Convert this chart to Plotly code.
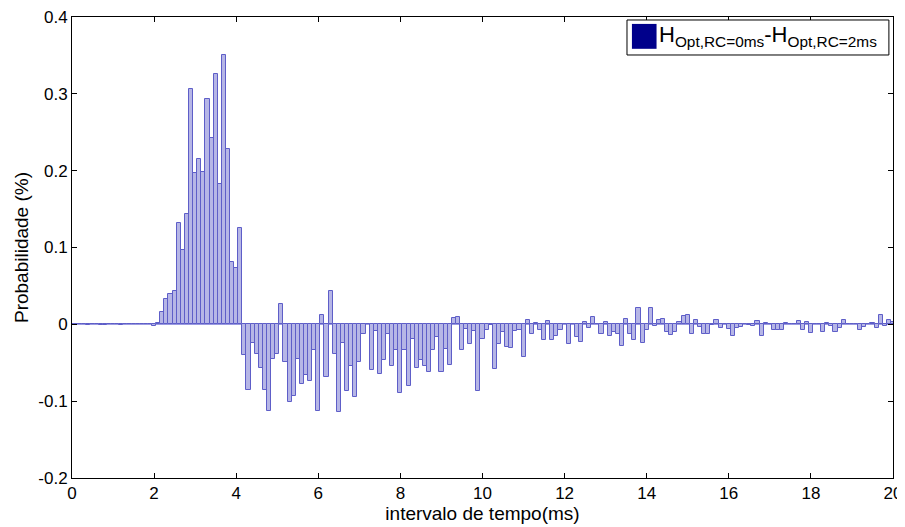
import plotly.graph_objects as go

# Bin centres (ms), 0.1 ms bins from 0.0 to 20.0
bin_centres = [round(k * 0.1, 1) for k in range(201)]

# Difference of histograms H_Opt,RC=0ms - H_Opt,RC=2ms (%)
vals_00_19 = [0, 0, 0, 0, -0.001, 0, 0, -0.001, -0.001, 0,
              0, 0, -0.001, 0, 0, 0, 0, 0, 0, 0]
vals_20_41 = [-0.002, 0.0015, 0.0158, 0.0328, 0.039, 0.043, 0.1317, 0.0965, 0.1434, 0.306,
              0.197, 0.215, 0.1985, 0.2935, 0.2423, 0.326, 0.1824, 0.3505, 0.228, 0.081,
              0.073, 0.1253]
vals_42_72 = [-0.040, -0.085, -0.0245, -0.039, -0.057, -0.085, -0.113, -0.045, -0.039, 0.026,
              -0.049, -0.101, -0.093, -0.045, -0.077, -0.066, -0.074, -0.034, -0.113, 0.012,
              -0.069, 0.043, -0.038, -0.114, -0.0245, -0.087, -0.054, -0.095, -0.049, -0.013,
              0.0]
vals_73_104 = [-0.060, -0.009, -0.064, -0.047, -0.013, -0.054, -0.034, -0.089, -0.034, -0.080,
               -0.019, -0.057, -0.047, -0.054, -0.062, -0.033, -0.017, -0.062, -0.032, -0.053,
               0.008, 0.009, -0.034, -0.006, -0.025, -0.009, -0.087, -0.019, -0.008, -0.001,
               -0.058, -0.026]
vals_105_137 = [-0.010, -0.030, -0.031, -0.009, -0.008, -0.043, 0.005, -0.013, 0.0015, -0.008,
                -0.021, 0.004, -0.021, -0.015, -0.007, 0, -0.025, 0, -0.017, -0.023,
                0.003, -0.005, 0.010, 0, -0.013, 0.003, -0.015, -0.010, -0.013, -0.028,
                0.007, -0.012, -0.020]
vals_138_167 = [0.021, -0.024, -0.008, 0.021, -0.002, 0.005, 0.007, -0.010, -0.014, -0.010,
                0.003, 0.011, 0.012, -0.013, 0.005, -0.003, -0.013, -0.012, -0.001, 0.006,
                -0.005, 0.001, -0.006, -0.015, -0.005, -0.003, 0, -0.001, -0.002, 0.004]
vals_168_200 = [-0.015, 0.002, 0, -0.008, -0.008, -0.008, 0.002, 0, 0, 0.004,
                -0.008, 0.003, -0.011, 0, 0, -0.010, 0.0015, -0.002, -0.010, -0.005,
                0.005, 0, 0, 0, -0.008, -0.004, 0, 0.002, -0.005, 0.012,
                -0.002, 0.005, 0.003]

diff_values = (vals_00_19 + vals_20_41 + vals_42_72 + vals_73_104
               + vals_105_137 + vals_138_167 + vals_168_200)

x_ticks = [0, 2, 4, 6, 8, 10, 12, 14, 16, 18, 20]
y_ticks = [-0.2, -0.1, 0, 0.1, 0.2, 0.3, 0.4]
y_tick_labels = ["-0.2", "-0.1", "0", "0.1", "0.2", "0.3", "0.4"]
legend_label = "H<sub>Opt,RC=0ms</sub>-H<sub>Opt,RC=2ms</sub>"

FONT = "Liberation Sans, Arial, sans-serif"

fig = go.Figure()
fig.add_trace(go.Bar(
    x=bin_centres, y=diff_values, width=0.1,
    marker=dict(color="#b6b6e6", line=dict(color="#5e5ec8", width=1)),
    showlegend=False,
))

axis_common = dict(
    showline=True, linecolor="#000000", linewidth=1, mirror="ticks",
    ticks="inside", ticklen=5, tickcolor="#000000", showgrid=False,
    ticklabeloverflow="allow",
    tickfont=dict(family=FONT, size=17, color="#000000"),
)

# page body adds an 8px offset; figure is sized so the plot lands where the original is
fig.update_layout(
    width=897, height=519,
    margin=dict(l=64, r=12, t=9, b=49),
    paper_bgcolor="white", plot_bgcolor="white",
    bargap=0,
    xaxis=dict(range=[0, 20], tickvals=x_ticks, zeroline=False,
               title=dict(text="intervalo de tempo(ms)", standoff=2,
                          font=dict(family=FONT, size=19, color="#000000")),
               automargin=False, **axis_common),
    yaxis=dict(range=[-0.2, 0.4], tickvals=y_ticks, ticktext=y_tick_labels,
               zeroline=True, zerolinecolor="#9a9ae0", zerolinewidth=1,
               title=dict(text="Probabilidade (%)", standoff=4,
                          font=dict(family=FONT, size=19, color="#000000")),
               automargin=False, **axis_common),
)

# Legend box drawn like the original (large navy swatch)
fig.add_shape(type="rect", xref="paper", yref="paper",
              x0=0.676, x1=0.995, y0=0.9176, y1=0.9935,
              line=dict(color="#000000", width=1), fillcolor="white")
fig.add_shape(type="rect", xref="paper", yref="paper",
              x0=0.682, x1=0.712, y0=0.931, y1=0.985,
              line=dict(color="#00008b", width=0), fillcolor="#00008b")
fig.add_annotation(xref="paper", yref="paper", x=0.713, y=0.958,
                   xanchor="left", yanchor="middle", showarrow=False,
                   text=legend_label,
                   font=dict(family=FONT, size=22, color="#000000"))

fig.write_html("out.html")
